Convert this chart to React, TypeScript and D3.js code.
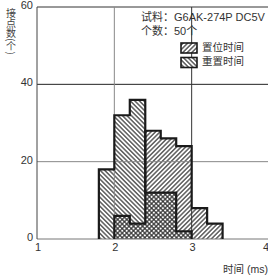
import React from 'react';
import * as d3 from 'd3';

// bins are 0.2 ms wide
const binStarts = [1.8, 2.0, 2.2, 2.4, 2.6, 2.8, 3.0, 3.2];
const resetCounts = [18, 32, 36, 12, 12, 2, 0, 0];
const setCounts = [0, 6, 4, 28, 26, 24, 8, 4];
const binWidth = 0.2;

const yTicks = [0, 20, 40, 60];
const xTicks = [1, 2, 3, 4];
const legendNames = ['置位时间', '重置时间'];

const FONT = '"Liberation Sans", Arial, "Noto Sans CJK SC", sans-serif';
const CJK = '"Noto Sans CJK SC", "Liberation Sans", sans-serif';

const x = d3.scaleLinear().domain([1, 4]).range([37, 269]);
const y = d3.scaleLinear().domain([0, 60]).range([239, 7]);

// step outline of one histogram, leading/trailing empty bins dropped
function stepPoints(counts: number[]): [number, number][] {
  let first = counts.findIndex((c) => c > 0);
  let last = counts.length - 1;
  while (last > 0 && counts[last] === 0) last--;
  const pts: [number, number][] = [[binStarts[first], 0]];
  for (let i = first; i <= last; i++) {
    pts.push([binStarts[i], counts[i]]);
    pts.push([binStarts[i] + binWidth, counts[i]]);
  }
  pts.push([binStarts[last] + binWidth, 0]);
  return pts;
}

const line = d3
  .line<[number, number]>()
  .x((d) => x(d[0]))
  .y((d) => y(d[1]));

const Hist = ({ counts, pattern }: { counts: number[]; pattern: string }) => {
  const pts = stepPoints(counts);
  return <path d={line(pts) + 'Z'} fill={`url(#${pattern})`} stroke="none" />;
};

const App = () => {
  const resetPts = stepPoints(resetCounts);
  const setPts = stepPoints(setCounts);
  return (
    <svg
      width={268}
      height={275}
      style={{ position: 'fixed', left: 0, top: 0, background: '#fff' }}
    >
      <defs>
        <pattern
          id="hatchSet"
          width="3.2"
          height="3.2"
          patternUnits="userSpaceOnUse"
          patternTransform="rotate(45)"
        >
          <line x1="1.6" y1="0" x2="1.6" y2="3.2" stroke="#2a2a2a" strokeWidth="1.15" />
        </pattern>
        <pattern
          id="hatchReset"
          width="3.2"
          height="3.2"
          patternUnits="userSpaceOnUse"
          patternTransform="rotate(-45)"
        >
          <line x1="1.6" y1="0" x2="1.6" y2="3.2" stroke="#2a2a2a" strokeWidth="1.15" />
        </pattern>
      </defs>

      {/* hatched areas, overlap turns into cross-hatch */}
      <Hist counts={resetCounts} pattern="hatchReset" />
      <Hist counts={setCounts} pattern="hatchSet" />

      {/* grid */}
      <line x1={x(1)} x2={x(4)} y1={y(20)} y2={y(20)} stroke="#888" strokeWidth={1} />
      <line x1={x(1)} x2={x(4)} y1={y(40)} y2={y(40)} stroke="#222" strokeWidth={1} />
      <line x1={x(1)} x2={x(4)} y1={y(60)} y2={y(60)} stroke="#333" strokeWidth={1} />
      <line x1={x(1)} x2={x(4)} y1={y(0)} y2={y(0)} stroke="#777" strokeWidth={1} />
      <line x1={x(2)} x2={x(2)} y1={y(0)} y2={y(60)} stroke="#888" strokeWidth={1} />
      <line x1={x(3)} x2={x(3)} y1={y(0)} y2={y(60)} stroke="#333" strokeWidth={1} />
      <line x1={x(1)} x2={x(1)} y1={y(0)} y2={y(60)} stroke="#444" strokeWidth={1} />

      {/* outlines */}
      <path d={line(resetPts) || ''} fill="none" stroke="#1a1a1a" strokeWidth={2.2} />
      <path d={line(setPts) || ''} fill="none" stroke="#1a1a1a" strokeWidth={2.2} />

      {/* y ticks */}
      {yTicks.map((t) => (
        <text
          key={t}
          x={33}
          y={y(t) - 1}
          textAnchor="end"
          dominantBaseline="middle"
          fontFamily={FONT}
          fontSize={11}
          fill="#333"
        >
          {t}
        </text>
      ))}
      {xTicks.map((t) => (
        <text
          key={t}
          x={t === 4 ? 266 : x(t) + 1}
          y={251}
          textAnchor="middle"
          fontFamily={FONT}
          fontSize={11}
          fill="#333"
        >
          {t}
        </text>
      ))}

      {/* axis titles */}
      <text
        x={11}
        y={8}
        writingMode="vertical-rl"
        style={{ textOrientation: 'mixed' }}
        fontFamily={CJK}
        fontSize={10}
        fill="#444"
      >
        接点数(个)
      </text>
      <text x={268} y={273} textAnchor="end" fontFamily={FONT} fontSize={10.5} fill="#333">
        时间 (ms)
      </text>

      {/* legend */}
      <text x={141} y={21} fontFamily={FONT} fontSize={11} fill="#333">
        试料：G6AK-274P DC5V
      </text>
      <text x={141} y={35} fontFamily={FONT} fontSize={11} fill="#333">
        个数：50个
      </text>
      {legendNames.map((name, i) => (
        <g key={name} transform={`translate(181, ${43 + i * 14.5})`}>
          <rect width={16} height={10} fill="#fff" />
          <rect
            width={16}
            height={10}
            fill={`url(#${i === 0 ? 'hatchSet' : 'hatchReset'})`}
            stroke="#1a1a1a"
            strokeWidth={1.6}
          />
          <text x={21} y={5} dominantBaseline="middle" fontFamily={FONT} fontSize={10.5} fill="#333">
            {name}
          </text>
        </g>
      ))}
    </svg>
  );
};

export default App;
